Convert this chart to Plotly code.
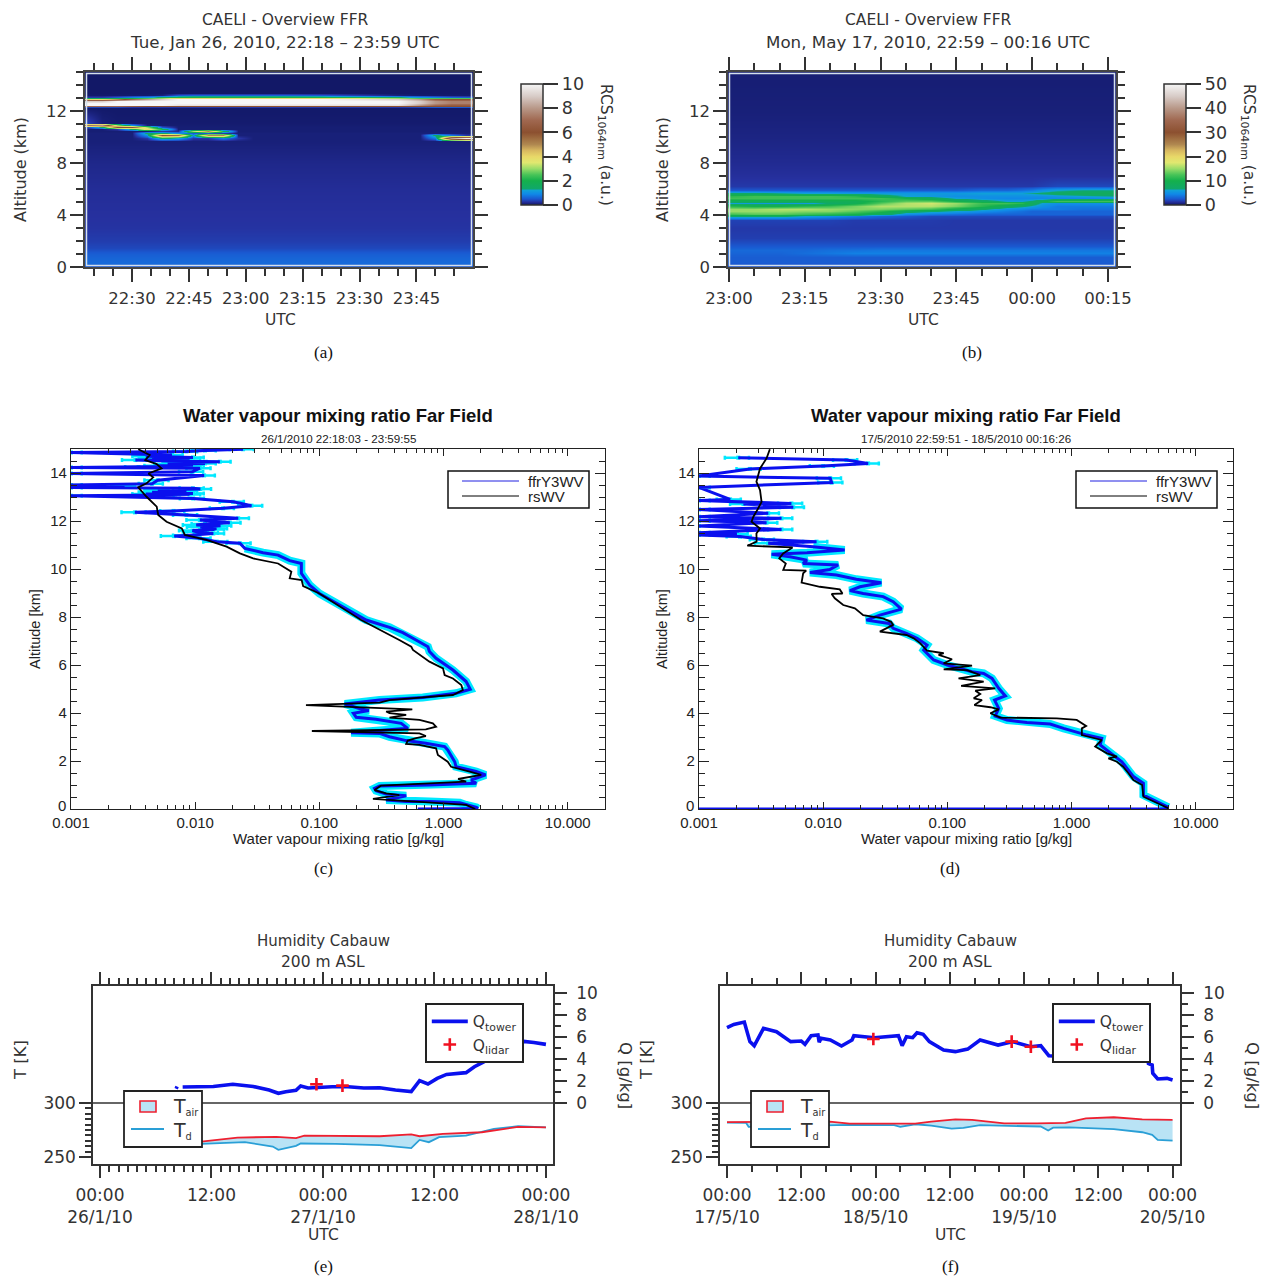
import plotly.graph_objects as go

W, H = 1268, 1277

# ---------- panel (a): RCS 1064 nm, 26 Jan 2010 ----------
a_minutes = [17.6, 22, 26, 30, 34, 38, 42, 46, 50, 54, 58, 62, 70, 80, 90, 100, 106, 110, 114, 118, 120]
a_alt = [0, .1, .3, .6, 1, 1.5, 2, 3, 4, 6, 8, 9.7, 9.92, 10.15, 10.3, 10.5, 10.65, 10.8, 10.95, 11.1, 12.2,
         12.3, 12.38, 12.45, 12.6, 12.75, 12.9, 13.0, 13.1, 13.2, 13.4, 15]
n = len(a_minutes)
a_z = [
    [.25] * n, [.5] * n, [.65] * n, [.62] * n, [.55] * n, [.4] * n, [.33] * n, [.27] * n, [.25] * n, [.22] * n, [.17] * n,
    [.1] * n,
    [.1, .1, .1, .1, .3, 1.5, 1.2, .3, .3, .8, .3, .1, .1, .1, .1, .1, .1, .8, 8, 10, 10],
    [.1, .1, .1, .1, 1, 6, 5.5, 1, 5, 5, .1, .1, .1, .1, .1, .1, .1, 1.5, .8, .3, .3],
    [.1, .1, .1, .1, 1.5, 1.5, 1, .5, .5, .3, .1, .1, .1, .1, .1, .1, .1, .1, .1, .1, .1],
    [.08, .08, .08, .08, .08, .3, .2, 3, 5, 2, .08, .08, .08, .08, .08, .08, .08, .08, .08, .08, .08],
    [.08, .08, .3, 1.5, 4, 2, .08, .08, .08, .08, .08, .08, .08, .08, .08, .08, .08, .08, .08, .08, .08],
    [.2, 1.5, 6, 6, 3, .5, .08, .08, .08, .08, .08, .08, .08, .08, .08, .08, .08, .08, .08, .08, .08],
    [7, 8, 3, 1, .1, .07, .07, .07, .07, .07, .07, .07, .07, .07, .07, .07, .07, .07, .07, .07, .07],
    [.4, .1, .06, .06, .06, .06, .06, .06, .06, .06, .06, .06, .06, .06, .06, .06, .06, .06, .06, .06, .06],
    [.04] * n,
    [.4, .4, .4, .3, .3, .3, .3, .3, .3, .3, .3, .3, .3, .3, .3, .3, .4, .5, .5, .5, .5],
    [7, 7, 7, 6.5, 6, 6, 6, 6, 6, 6, 6, 6, 6, 6, 6, 6, 6, 6, 6, 6, 6],
    [10, 10, 10, 10, 10, 10, 9.5, 9.5, 9.5, 9.5, 9.5, 9.5, 9.5, 9.5, 9.5, 9.5, 8, 7, 6.5, 6.5, 6.5],
    [10, 10, 10, 10, 10, 10, 10, 10, 10, 10, 10, 10, 10, 10, 10, 10, 9, 8, 7.5, 7.5, 7.5],
    [9, 9, 10, 10, 10, 10, 10, 10, 10, 10, 10, 10, 10, 10, 10, 10, 9, 8, 7.5, 7.5, 7.5],
    [4, 4, 5, 7, 8, 9, 10, 10, 10, 10, 10, 10, 10, 10, 9.5, 9, 8, 6.5, 6, 6, 6],
    [1.5, 1.6, 1.8, 2, 2.5, 3, 4, 4, 4, 4, 4, 4, 4, 4, 3.5, 3, 2.5, 2.5, 2.5, 2.5, 2.5],
    [.3, .3, .5, .8, 1, 1.5, 2, 2, 2, 2, 2, 2, 2, 2, 1.7, 1.4, 1, .8, .6, .5, .5],
    [.05, .05, .05, .05, .05, .1, .5, .6, .6, .6, .6, .6, .6, .5, .3, .1, .05, .05, .05, .05, .05],
    [.03] * n, [.03] * n,
]

# ---------- panel (b): RCS 1064 nm, 17 May 2010 ----------
b_minutes = [0, 5, 10, 15, 20, 25, 30, 35, 40, 45, 50, 55, 58, 60, 62, 65, 70, 77]
b_alt = [0, .1, .4, .8, 1.1, 1.3, 1.6, 2.2, 3, 3.6, 3.9, 4.1, 4.3, 4.5, 4.7, 4.9, 5.1, 5.3, 5.5, 5.7, 5.9, 6.2, 7, 8, 10, 12, 15]
m = len(b_minutes)
b_z = [
    [1] * m, [2.3] * m, [2.7] * m, [2.7] * m,
    [3, 3, 3, 3.4, 3.8, 4.2, 4.2, 4.2, 4.2, 4.2, 4.2, 4.2, 4.2, 4.2, 4.2, 4.2, 4.2, 4.2],
    [3.2, 3.2, 3.2, 3.2, 3.5, 3.6, 3.8, 3.8, 3.8, 3.8, 3.8, 3.8, 3.8, 3.8, 3.8, 3.8, 3.8, 3.8],
    [2.5] * m, [1.7] * m, [1.5] * m,
    [1.8, 1.8, 1.8, 1.8, 1.8, 1.6, 1.6, 1.6, 1.6, 1.5, 1.5, 1.5, 1.5, 1.5, 1.5, 1.5, 1.5, 1.5],
    [7, 7, 7, 6, 5, 4, 3, 2.5, 2, 2, 2, 2, 2, 2, 2, 2, 2, 2],
    [12, 13, 13, 12, 11, 10, 8, 5, 4, 3.5, 3, 3, 3, 3, 3, 3, 3, 3],
    [15, 15, 15, 14.5, 14.5, 13, 11, 8, 7, 6, 5, 4, 3.5, 3, 3, 3, 3, 3],
    [15, 15, 16, 16, 15, 14.5, 14, 13, 12, 9, 7, 5, 4.5, 4, 4, 4, 3.5, 3.5],
    [11, 10, 10, 11, 12, 14, 16, 16, 16, 14, 11, 8, 7, 6, 5, 4, 4, 4],
    [6, 5.5, 5.5, 5.5, 7, 9, 13, 16, 17, 15, 12, 12, 11, 8, 6, 5, 5, 5],
    [8, 9, 9, 9, 9, 9, 11, 13, 13, 10, 8, 6, 6, 7, 9, 12, 12, 12],
    [12, 12, 12, 12, 12, 12, 12, 10, 8, 6, 5, 4.5, 4.5, 4.5, 4.5, 4.5, 4.5, 5],
    [11, 12, 12, 12, 12, 11, 8, 6, 5.5, 5, 5, 5, 5, 5, 5, 5.5, 6, 6.5],
    [7, 7, 6.5, 6, 6, 5.5, 5.5, 5.5, 5.5, 5.5, 6, 6, 6, 6.5, 7, 7.5, 8, 8],
    [2.5, 2.5, 2.5, 2.5, 2.5, 2.5, 2.5, 2.5, 2.5, 2.5, 3, 3, 3.5, 4, 5, 6, 6.5, 6.5],
    [1.5, 1.5, 1.5, 1.5, 1.5, 1.5, 1.5, 1.5, 1.5, 1.5, 1.5, 1.5, 1.5, 1.5, 1.7, 2, 2, 2],
    [1.2] * m, [1] * m, [.7] * m, [.5] * m, [.4] * m,
]

rcs_colors = [[0, "#0f1560"], [.025, "#26309e"], [.05, "#1a58d0"], [.09, "#1088e8"], [.12, "#10a0d8"], [.135, "#10a868"],
              [.2, "#14b04c"], [.25, "#48c458"], [.3, "#98dc68"], [.35, "#e0e870"], [.4, "#e8d868"], [.45, "#d8b860"],
              [.5, "#b08850"], [.6, "#8c5030"], [.7, "#a06850"], [.8, "#b89888"], [.9, "#d8ccc8"], [1, "#f6f6f6"]]

# ---------- panel (c): mixing ratio, 26 Jan 2010 ----------
c_ffr_alt = [0, .02, .07, .17, .26, .31, .31, .375, .55, .62, .76, .86, .96, 1.0, 1.07, 1.21, 1.42, 1.56, 1.76, 1.97,
             2.46, 2.6, 2.74, 2.85, 3.01, 3.15, 3.18, 3.27, 3.36, 3.57, 3.74, 3.82, 3.99, 4.1, 4.19, 4.375, 4.54, 4.65,
             4.82, 4.99, 5.31, 5.79, 6.28, 6.56, 6.76, 7.04, 7.35, 7.57, 7.74, 7.875, 8.98, 9.33, 9.82, 10.23, 10.35,
             10.58, 10.68, 10.86, 11.07, 11.14, 11.28, 11.37, 11.4, 11.48, 11.5, 11.55, 11.6, 11.65, 11.69, 11.75, 11.8,
             11.83, 11.88, 11.93, 12.04, 12.11, 12.25, 12.36, 12.42, 12.53, 12.64, 12.8, 12.94, 13.05, 13.08, 13.1, 13.13,
             13.15, 13.2, 13.25, 13.3, 13.33, 13.36, 13.4, 13.46, 13.5, 13.55, 13.7, 13.9, 13.98, 14.05, 14.2, 14.23,
             14.25, 14.28, 14.3, 14.33, 14.36, 14.4, 14.44, 14.47, 14.5, 14.54, 14.57, 14.6, 14.62, 14.65, 14.7, 14.75,
             14.85, 14.9, 14.94, 14.99]
c_ffr_q = [.62, 1.89, 1.84, 1.52, 1.35, .77, .5, .345, .5, .345, .286, .278, .305, .77, 1.83, 1.67, 2.18, 1.83, 1.26, 1.23,
           1.08, 1.02, .72, .5, .367, .305, .18, .305, .515, .456, .286, .198, .188, .25, .21, .16, .305, .68,
           1.26, 1.64, 1.52, 1.19, .87, .77, .748, .6, .47, .367, .286, .238, .1, .0835, .0716, .0716, .0577,
           .0465, .0352, .0251, .0229, .0149, .0109, .00678, .0085, .014, .0125, .0102, .0095, .014, .0148, .011, .016,
           .0102, .012, .019, .0109, .0222, .0085, .00327, .0067, .0168, .0284, .0202, .00964, .001, .0055, .009, .004,
           .0096, .0045, .0085, .005, .011, .0096, .001, .0027, .001, .0045, .005, .0118, .001, .0095, .0109, .001,
           .0035, .009, .005, .0096, .006, .012, .007, .0158, .006, .0033, .0075, .009, .0045, .0096, .004, .0065,
           .001, .0085, .012, .0243]
c_rs_alt = [0, .17, .42, .58, .65, .79, .97, 1.14, 1.25, 1.42, 1.56, 1.76, 1.97, 2.25, 2.53, 2.67, 2.71, 2.85, 2.95, 3.04,
            3.15, 3.25, 3.32, 3.43, 3.57, 3.71, 3.81, 3.92, 3.99, 4.06, 4.15, 4.19, 4.33, 4.43, 4.54, 4.65, 4.75, 4.96,
            5.17, 5.44, 5.58, 5.86, 6.14, 6.625, 6.76, 7.04, 7.43, 7.71, 7.875, 8.98, 9.29, 9.54, 9.61, 9.89, 10.23,
            10.44, 10.65, 10.93, 11.21, 11.42, 11.69, 11.97, 12.25, 12.6, 13.01, 13.4, 13.57, 13.82, 13.98, 14.19,
            14.37, 14.54, 14.75, 14.99]
c_rs_q = [1.8, 1.52, .27, .44, .345, .278, .313, 1.52, 1.31, 2.01, 1.62, 1.15, 1.08, .9, .87, .64, .5, .515, .6, .72,
          .64, .087, .72, .87, .82, .64, .367, .5, .367, .345, .56, .345, .078, .305, .367, .68, 1.19, 1.43,
          1.39, 1.19, 1.02, .99, .77, .567, .55, .44, .32, .25, .217, .1, .074, .072, .0577, .0595, .0465,
          .0293, .0229, .0179, .0123, .00826, .0078, .00588, .00504, .0049, .00406, .00348, .00406, .00459, .0042, .00536,
          .0049, .00396, .0043, .00348]

# ---------- panel (d): mixing ratio, 17 May 2010 ----------
d_ffr_alt = [0, 0, .07, .3, .58, 1.07, 1.35, 1.97, 2.39, 2.67, 2.94, 3.08, 3.36, 3.54, 3.6, 3.71, 3.875, 4.19, 4.54, 4.71,
             5.03, 5.44, 5.65, 5.72, 6.0, 6.21, 6.625, 6.83, 7.11, 7.32, 7.53, 7.73, 7.87, 8.08, 8.33, 8.64, 8.85, 8.98,
             9.1, 9.26, 9.43, 9.57, 9.75, 9.85, 9.98, 10.17, 10.23, 10.37, 10.51, 10.61, 10.68, 10.79, 10.93, 11.07,
             11.14, 11.23, 11.35, 11.42, 11.46, 11.51, 11.65, 11.79, 11.93, 12.01, 12.11, 12.18, 12.32, 12.48, 12.57,
             12.71, 12.73, 12.85, 12.9, 13.4, 13.6, 13.78, 13.87, 14.17, 14.29, 14.4, 14.54, 14.64]
d_ffr_q = [.001, 5.5, 6.03, 4.85, 3.79, 3.79, 3.15, 2.54, 1.98, 1.7, 1.75, 1.33, .863, .673, .437, .302, .243, .259, .24, .293,
           .259, .229, .196, .158, .1, .0776, .0645, .0686, .057, .0468, .0366, .0339, .0223, .0286, .0427, .0366, .0304, .021,
           .0164, .0198, .0294, .0185, .0128, .00782, .0113, .0132, .00688, .0074, .0054, .00384, .0074, .0149, .00831, .00361,
           .00884, .00329, .00214, .001, .00202, .001, .00462, .001, .0035, .001, .00462, .001, .00361, .001, .00574,
           .00228, .00555, .001, .00178, .001, .0117, .0114, .001, .00257, .01, .023, .0154, .00207]
d_rs_alt = [.03, .51, 1.0, 1.21, 1.49, 1.76, 1.97, 2.11, 2.18, 2.32, 2.6, 2.875, 3.08, 3.36, 3.46, 3.71, 3.78, 3.81, 3.99,
            4.15, 4.24, 4.33, 4.54, 4.61, 4.79, 4.93, 5.03, 5.13, 5.31, 5.44, 5.58, 5.79, 5.82, 5.97, 6.07, 6.24, 6.42,
            6.49, 6.6, 6.9, 7.11, 7.25, 7.39, 7.67, 7.8, 7.94, 8.08, 8.36, 8.5, 8.78, 8.96, 8.98, 9.15, 9.26, 9.43, 9.82,
            9.93, 9.96, 10.23, 10.44, 10.65, 10.9, 10.97, 11.14, 11.48, 11.69, 11.97, 12.18, 12.53, 12.8, 13.29, 13.64,
            14.19, 14.61, 14.99]
d_rs_q = [6.03, 3.79, 3.7, 3.15, 2.87, 2.6, 2.32, 1.98, 2.32, 1.93, 1.55, 1.75, 1.21, 1.21, 1.31, 1.1, .76, .267, .222,
          .259, .222, .165, .19, .163, .184, .168, .243, .129, .196, .123, .184, .144, .0934, .158, .0934, .109, .085,
          .0934, .0686, .0606, .0536, .0468, .0286, .0366, .0352, .0303, .021, .018, .0145, .0124, .0117, .0143, .0136, .0094, .0067, .0069,
          .0073, .00477, .005, .00443, .00476, .00567, .00245, .00291, .0029, .0031, .00265, .00274, .003, .00319, .0031, .0029,
          .0031, .0035, .00372]

# ---------- panel (e): tower, Jan 2010 (hours from 26/1/10 00:00) ----------
e_q_hours = [8.2, 8.3, None, 8.9, 12.2, 14.3, 16.5, 18.2, 19.2, 20, 21.1, 21.6, 22.4, 25, 26.7, 28.4, 30.1, 31.8, 33.5, 34.4,
             35.3, 36.3, 37.3, 39.4, 40.3, 41.2, 42.9, 44.6, 45.6, 46.7, 48]
e_q_tower = [1.3, 1.5, None, 1.45, 1.5, 1.7, 1.5, 1.18, .88, 1.03, 1.15, 1.55, 1.36, 1.48, 1.48, 1.36, 1.39, 1.18, 1.03, 2.03,
             1.73, 2.24, 2.6, 2.76, 3.3, 3.7, 4.5, 5.4, 5.6, 5.5, 5.33]
e_lidar_hours = [23.3, 26.1]
e_q_lidar = [1.7, 1.58]
e_air_hours = [10.9, 14.8, 19, 21.1, 22, 25.4, 30.1, 33.5, 34.4, 36.9, 41.1, 45, 48]
e_t_air = [264.3, 268, 268.6, 267.4, 269.8, 269.5, 269.2, 271, 269.2, 271.4, 272.9, 277.8, 277.5]
e_dew_hours = [10.9, 15.6, 18.6, 19.2, 21.1, 21.6, 25.4, 30.1, 33.5, 34.4, 35.4, 36.5, 39.4, 41.1, 42.4, 45, 48]
e_t_dew = [262.2, 263.7, 259.7, 256.6, 260.3, 262.5, 262.2, 260.9, 258.2, 265.8, 263.7, 268.3, 269.8, 273.5, 276, 278.5, 277.5]

# ---------- panel (f): tower, May 2010 (hours from 17/5/10 00:00) ----------
f_q_hours = [0, 1.1, 2.8, 3.3, 3.7, 4.4, 5.1, 5.9, 8, 10.3, 12, 12.6, 13.6, 14.7, 14.9, 15.2, 16.7, 18.5, 20.2, 20.5, 23.8,
             27.7, 28.3, 29, 30, 30.7, 31.7, 32.7, 35, 36.9, 38.9, 40.9, 43.8, 46.1, 49.1, 50.7, 52, 56, 63.2, 68, 68.1,
             68.7, 68.8, 69.6, 71.1, 72]
f_q_tower = [6.85, 7.15, 7.36, 6.48, 5.58, 5.2, 6.03, 6.79, 6.48, 5.58, 5.64, 5.33, 6.12, 6.18, 5.52, 5.88, 5.73, 5.18, 5.73, 6.12, 5.94,
             6.12, 5.21, 6.03, 5.94, 6.39, 6.24, 5.58, 4.82, 4.67, 4.9, 5.73, 5.27, 5.58, 5.12, 5.21, 4.3, 4.2, 4, 4, 3.6,
             3.45, 2.7, 2.18, 2.24, 2.09]
f_lidar_hours = [23.65, 46, 49.1]
f_q_lidar = [5.82, 5.58, 5.12]
f_air_hours = [0, 3.4, 16.6, 19.8, 25.1, 30.4, 33, 36.9, 39.6, 44.8, 50.1, 54.7, 58, 62.5, 67.1, 72]
f_t_air = [282.2, 282.2, 282.8, 280.9, 280.6, 280.9, 282.8, 284.9, 284.3, 281.2, 281.2, 281.5, 285.8, 286.8, 284.9, 284.3]
f_dew_hours = [0, 3.1, 3.5, 16.6, 19.8, 27, 28, 30.4, 33, 36.3, 38.2, 40.9, 47.5, 50.7, 51.9, 52.7, 55.3, 62.5, 67.1, 68.7, 69.6, 72]
f_t_dew = [281.8, 281.5, 277.8, 278.8, 279.7, 279.4, 277.8, 280.3, 279.1, 276.3, 276.9, 279.4, 278.2, 278.2, 274.5, 277.2, 277.5, 275.7,
           272.9, 270.5, 265.8, 265.2]

# ---------- tick labels ----------
a_tick_vals = [30, 45, 60, 75, 90, 105]
a_tick_text = ["22:30", "22:45", "23:00", "23:15", "23:30", "23:45"]
b_tick_vals = [0, 15, 30, 45, 60, 75]
b_tick_text = ["23:00", "23:15", "23:30", "23:45", "00:00", "00:15"]
e_tick_vals = [0, 12, 24, 36, 48]
e_tick_text = ["00:00<br>26/1/10", "12:00", "00:00<br>27/1/10", "12:00", "00:00<br>28/1/10"]
f_tick_vals = [0, 12, 24, 36, 48, 60, 72]
f_tick_text = ["00:00<br>17/5/10", "12:00", "00:00<br>18/5/10", "12:00", "00:00<br>19/5/10", "12:00", "00:00<br>20/5/10"]
log_tick_vals = [.001, .01, .1, 1, 10]
log_tick_text = ["0.001", "0.010", "0.100", "1.000", "10.000"]
alt_tick_vals = [0, 2, 4, 6, 8, 10, 12, 14]
alt_tick_text = ["", "2", "4", "6", "8", "10", "12", "14"]

MAC = "DejaVu Sans"
ARIAL = "Liberation Sans"
SERIF = "Liberation Serif"
INK = "#333333"


def fx(a, b):
    return [a / W, b / W]


def fy(top, bottom):
    return [1 - bottom / H, 1 - top / H]


def note(x, y, text, font=MAC, size=16, color=INK, angle=0, anchor="center"):
    return dict(xref="paper", yref="paper", x=x / W, y=1 - y / H, text=text, showarrow=False, textangle=angle,
                xanchor=anchor, yanchor="middle", font=dict(family=font, size=size, color=color))


def pbox(x0, y0, x1, y1, **kw):
    return dict(type="rect", xref="paper", yref="paper", x0=x0 / W, x1=x1 / W, y0=1 - y0 / H, y1=1 - y1 / H, **kw)


def pline(x0, y0, x1, y1, color, width):
    return dict(type="line", xref="paper", yref="paper", x0=x0 / W, x1=x1 / W, y0=1 - y0 / H, y1=1 - y1 / H,
                line=dict(color=color, width=width))


fig = go.Figure()
layout = {}
notes = []
shapes = []

# --- heatmaps ---
for idx, xs, ys, zs, zmax, rng, cb_x, cb_ticks in [
    ("", a_minutes, a_alt, a_z, 10, [17.6, 119.9], 521, [0, 2, 4, 6, 8, 10]),
    ("2", b_minutes, b_alt, b_z, 50, [-.2, 76.6], 1164, [0, 10, 20, 30, 40, 50]),
]:
    fig.add_trace(go.Heatmap(
        x=xs, y=ys, z=zs, zmin=0, zmax=zmax, colorscale=rcs_colors, zsmooth="best", xaxis="x" + idx, yaxis="y" + idx,
        hoverinfo="skip",
        colorbar=dict(x=cb_x / W, xanchor="left", xpad=0, y=1 - 84 / H, yanchor="top", ypad=0, lenmode="pixels", len=121,
                      thicknessmode="pixels", thickness=22, tickmode="array", tickvals=cb_ticks, ticks="outside", ticklen=15,
                      tickwidth=1.5, tickcolor=INK, outlinecolor="#333", outlinewidth=1.5,
                      tickfont=dict(family=MAC, size=17.5, color=INK))))

for idx, dom, tv, tt, rng, mins in [
    ("", fx(85, 473), a_tick_vals, a_tick_text, [17.6, 119.9], list(range(20, 120, 5))),
    ("2", fx(728, 1116), b_tick_vals, b_tick_text, [-.2, 76.6], list(range(0, 77, 5))),
]:
    layout["xaxis" + idx] = dict(domain=dom, range=rng, anchor="y" + idx, tickmode="array", tickvals=tv, ticktext=tt,
                                 ticks="outside", ticklen=13, tickwidth=1.5, tickcolor=INK, showline=True, linecolor="#444",
                                 linewidth=1.5, mirror="ticks", showgrid=False, zeroline=False, ticklabelstandoff=2,
                                 tickfont=dict(family=MAC, size=16.5, color=INK), automargin=False,
                                 minor=dict(tickmode="array", tickvals=mins, ticks="outside", ticklen=7, tickwidth=1.5,
                                            tickcolor=INK, showgrid=False))
    layout["yaxis" + idx] = dict(domain=fy(72, 267), range=[0, 15], anchor="x" + idx, tickmode="array", tickvals=[0, 4, 8, 12],
                                 ticks="outside", ticklen=13, tickwidth=1.5, tickcolor=INK, showline=True, linecolor="#444",
                                 linewidth=1.5, mirror="ticks", showgrid=False, zeroline=False, automargin=False,
                                 tickfont=dict(family=MAC, size=16.5, color=INK),
                                 minor=dict(tickmode="array", tickvals=list(range(0, 16)), ticks="outside", ticklen=7,
                                            tickwidth=1.5, tickcolor=INK, showgrid=False))
    shapes.append(pbox(dom[0] * W + 1.5, 73.5, dom[1] * W - 1.5, 265.5, line=dict(color="#d4e0ec", width=1.5)))

for cx, sub, yl_x, cb_lab_x, cap_x, cap in [
    (285, "Tue, Jan 26, 2010, 22:18 – 23:59 UTC", 20, 605, 323, "(a)"),
    (928, "Mon, May 17, 2010, 22:59 – 00:16 UTC", 662, 1248, 972, "(b)"),
]:
    notes += [note(cx, 20, "CAELI - Overview FFR", size=15.5), note(cx, 42, sub, size=16.7),
              note(yl_x, 170, "Altitude (km)", size=16, angle=-90),
              note(cb_lab_x, 145, "RCS<sub>1064nm</sub> (a.u.)", size=15.5, angle=90),
              note(cx - 5, 320, "UTC", size=15.5),
              note(cap_x, 352, cap, font=SERIF, size=17, color="#111")]

# --- profiles ---
for xa, ya, al_b, q_b, al_k, q_k in [
    ("x3", "y3", c_ffr_alt, c_ffr_q, c_rs_alt, c_rs_q),
    ("x4", "y4", d_ffr_alt, d_ffr_q, d_rs_alt, d_rs_q),
]:
    low = [(q, a) for q, a in zip(q_b, al_b) if 0 < a < 11]
    high = [(q, a) for q, a in zip(q_b, al_b) if a >= 11]
    fig.add_trace(go.Scatter(x=[p[0] for p in low], y=[p[1] for p in low], mode="lines", xaxis=xa, yaxis=ya,
                             line=dict(color="#00e8ff", width=8), showlegend=False, hoverinfo="skip"))
    fig.add_trace(go.Scatter(x=[p[0] for p in high], y=[p[1] for p in high], mode="markers", xaxis=xa, yaxis=ya,
                             marker=dict(color="#00e8ff", symbol="square", size=4), showlegend=False, hoverinfo="skip",
                             error_x=dict(type="percent", value=22, color="#00e8ff", thickness=2.5, width=2)))
    fig.add_trace(go.Scatter(x=q_b, y=al_b, mode="lines", xaxis=xa, yaxis=ya, line=dict(color="#0a10ee", width=3),
                             showlegend=False, hoverinfo="skip"))
    fig.add_trace(go.Scatter(x=q_k, y=al_k, mode="lines", xaxis=xa, yaxis=ya, line=dict(color="#000", width=1.8),
                             showlegend=False, hoverinfo="skip"))

log_minor = [k * 10 ** e for e in (-3, -2, -1, 0, 1) for k in range(2, 10) if k * 10 ** e < 20]
for pos, dom in [("3", fx(71, 605)), ("4", fx(699, 1233))]:
    layout["xaxis" + pos] = dict(domain=dom, type="log", range=[-3, 1.3], anchor="y" + pos, tickmode="array",
                                 tickvals=log_tick_vals, ticktext=log_tick_text, ticks="inside", ticklen=7, tickcolor="#222",
                                 showline=True, linecolor="#222", linewidth=1.2, mirror="ticks", showgrid=False, zeroline=False,
                                 tickfont=dict(family=ARIAL, size=15, color="#222"), automargin=False,
                                 minor=dict(tickmode="array", tickvals=log_minor, ticks="inside", ticklen=4, tickcolor="#222",
                                            showgrid=False))
    layout["yaxis" + pos] = dict(domain=fy(449, 809), range=[0, 15], anchor="x" + pos, tickmode="array",
                                 tickvals=alt_tick_vals, ticktext=alt_tick_text, ticks="inside", ticklen=10, tickcolor="#222",
                                 showline=True, linecolor="#222", linewidth=1.2, mirror="ticks", showgrid=False, zeroline=False,
                                 tickfont=dict(family=ARIAL, size=15, color="#222"), automargin=False,
                                 minor=dict(tickmode="array", tickvals=[v / 2 for v in range(0, 31)], ticks="inside", ticklen=6,
                                            tickcolor="#222", showgrid=False))

for cx, yl_x, sub, cap_x, cap, ax_x, lg_x in [
    (338, 35, "26/1/2010 22:18:03 - 23:59:55", 323, "(c)", 71, 448),
    (966, 662, "17/5/2010 22:59:51 - 18/5/2010 00:16:26", 950, "(d)", 699, 1076),
]:
    notes += [note(cx, 416, "<b>Water vapour mixing ratio Far Field</b>", font=ARIAL, size=18.5, color="#111"),
              note(cx, 438, sub, font=ARIAL, size=11.6, color="#222"),
              note(cx, 839, "Water vapour mixing ratio [g/kg]", font=ARIAL, size=15, color="#222"),
              note(yl_x, 629, "Altitude [km]", font=ARIAL, size=14.5, color="#222", angle=-90),
              note(ax_x - 3, 805, "0", font=ARIAL, size=15, color="#222", anchor="right"),
              note(cap_x, 868, cap, font=SERIF, size=17, color="#111"),
              note(lg_x + 78, 481, "ffrY3WV", font=ARIAL, size=15, color="#222", anchor="left"),
              note(lg_x + 78, 496, "rsWV", font=ARIAL, size=15, color="#222", anchor="left")]
    shapes += [pbox(lg_x, 471, lg_x + 141, 508, fillcolor="#fff", line=dict(color="#111", width=1.5)),
               pline(lg_x + 14, 481, lg_x + 71, 481, "#2020e0", 1),
               pline(lg_x + 14, 496, lg_x + 71, 496, "#000", 1)]

# --- tower panels ---
for pos, qpos, leg_q, qh, q, lh, ql, ah, ta, dh, td in [
    ("5", "7", "legend", e_q_hours, e_q_tower, e_lidar_hours, e_q_lidar, e_air_hours, e_t_air, e_dew_hours, e_t_dew),
    ("6", "8", "legend2", f_q_hours, f_q_tower, f_lidar_hours, f_q_lidar, f_air_hours, f_t_air, f_dew_hours, f_t_dew),
]:
    xa, ya, yq = "x" + pos, "y" + pos, "y" + qpos
    fig.add_trace(go.Scatter(x=dh, y=td, mode="lines", xaxis=xa, yaxis=ya, showlegend=False,
                             line=dict(color="#2a9fd6", width=1.8)))
    fig.add_trace(go.Scatter(x=ah, y=ta, mode="lines", xaxis=xa, yaxis=ya, showlegend=False,
                             line=dict(color="#ee2030", width=1.8), fill="tonexty", fillcolor="#b9e3f5"))
    fig.add_trace(go.Scatter(x=qh, y=q, mode="lines", xaxis=xa, yaxis=yq, name="Q<sub>tower</sub>", legend=leg_q,
                             line=dict(color="#0a10ee", width=3.6)))
    fig.add_trace(go.Scatter(x=lh, y=ql, mode="markers", xaxis=xa, yaxis=yq, name="Q<sub>lidar</sub>", legend=leg_q,
                             marker=dict(symbol="cross-thin", size=9, line=dict(color="#f01020", width=2.6), color="#f01020")))

for pos, qpos, dom, rng, tv, tt, mins in [
    ("5", "7", fx(93, 553), [-.75, 48.76], e_tick_vals, e_tick_text, list(range(0, 49))),
    ("6", "8", fx(720, 1180), [-1.13, 73.2], f_tick_vals, f_tick_text, list(range(0, 73, 4))),
]:
    layout["xaxis" + pos] = dict(domain=dom, range=rng, anchor="y" + pos, tickmode="array", tickvals=tv, ticktext=tt,
                                 ticks="outside", ticklen=12, tickwidth=1.5, tickcolor=INK, showline=True, linecolor="#333",
                                 linewidth=1.5, mirror="ticks", showgrid=False, zeroline=False, ticklabelstandoff=3,
                                 tickfont=dict(family=MAC, size=17, color=INK), automargin=False,
                                 minor=dict(tickmode="array", tickvals=mins, ticks="outside", ticklen=6, tickwidth=1.5,
                                            tickcolor=INK, showgrid=False))
    layout["yaxis" + pos] = dict(domain=fy(986, 1164), range=[243.5, 408.3], anchor="x" + pos, tickmode="array",
                                 tickvals=[250, 300], ticks="outside", ticklen=12, tickwidth=1.5, tickcolor=INK, showline=True,
                                 linecolor="#333", linewidth=1.5, showgrid=False, zeroline=False, automargin=False,
                                 tickfont=dict(family=MAC, size=17, color=INK),
                                 minor=dict(tickmode="array", tickvals=list(range(250, 301, 5)), ticks="outside", ticklen=6,
                                            tickwidth=1.5, tickcolor=INK, showgrid=False))
    layout["yaxis" + qpos] = dict(domain=fy(986, 1164), range=[-5.55, 10.64], anchor="x" + pos, overlaying="y" + pos, side="right",
                                  tickmode="array", tickvals=[0, 2, 4, 6, 8, 10], ticks="outside", ticklen=12, tickwidth=1.5,
                                  tickcolor=INK, showline=True, linecolor="#333", linewidth=1.5, showgrid=False, zeroline=False,
                                  tickfont=dict(family=MAC, size=17, color=INK), automargin=False, ticklabelstandoff=6,
                                  minor=dict(tickmode="array", tickvals=list(range(0, 11)), ticks="outside", ticklen=6,
                                             tickwidth=1.5, tickcolor=INK, showgrid=False))

for cx, tk_x, q_x, cap, lx0 in [(323, 20, 626, "(e)", 124), (950, 646, 1253, "(f)", 751)]:
    notes += [note(cx, 941, "Humidity Cabauw", size=15), note(cx, 962, "200 m ASL", size=15.5),
              note(cx, 1235, "UTC", size=15.5),
              note(tk_x, 1060, "T [K]", size=16.5, angle=-90),
              note(q_x, 1075, "Q [g/kg]", size=16.5, angle=90),
              note(cx, 1266, cap, font=SERIF, size=17, color="#111")]
    # axis zero line, then the temperature key on top of it
    shapes.append(pline(lx0 - 43, 1103, lx0 + 441, 1103, "#333", 1.5))
    shapes.append(pbox(lx0, 1091, lx0 + 78, 1147, fillcolor="#fff", line=dict(color="#222", width=1.8)))
    shapes.append(pbox(lx0 + 16, 1101, lx0 + 32, 1112, fillcolor="#b9e3f5", line=dict(color="#ee2030", width=1.6)))
    shapes.append(pline(lx0 + 7, 1129, lx0 + 40, 1129, "#2a9fd6", 1.8))
    notes += [note(lx0 + 47, 1106, "<span style='font-size:19px'>T</span><sub>air</sub>", size=14, anchor="left"),
              note(lx0 + 47, 1130, "<span style='font-size:19px'>T</span><sub>d</sub>", size=14, anchor="left")]


def legend_box(x, y, font, size, itemwidth):
    return dict(x=x / W, y=1 - y / H, xanchor="left", yanchor="top", bgcolor="#fff", bordercolor="#222", borderwidth=1.8,
                font=dict(family=font, size=size, color=INK), itemwidth=max(itemwidth, 30), tracegroupgap=0,
                traceorder="normal", itemclick=False, itemdoubleclick=False)


layout["legend"] = legend_box(425, 1003, MAC, 15.5, 36)
layout["legend2"] = legend_box(1052, 1003, MAC, 15.5, 36)

fig.update_layout(width=W, height=H, margin=dict(l=0, r=0, t=0, b=0, autoexpand=False), paper_bgcolor="#fff",
                  plot_bgcolor="rgba(0,0,0,0)", annotations=notes, shapes=shapes, **layout)

fig.write_html("out.html", config={"displayModeBar": False},
               post_script="document.body.style.margin='0';")
